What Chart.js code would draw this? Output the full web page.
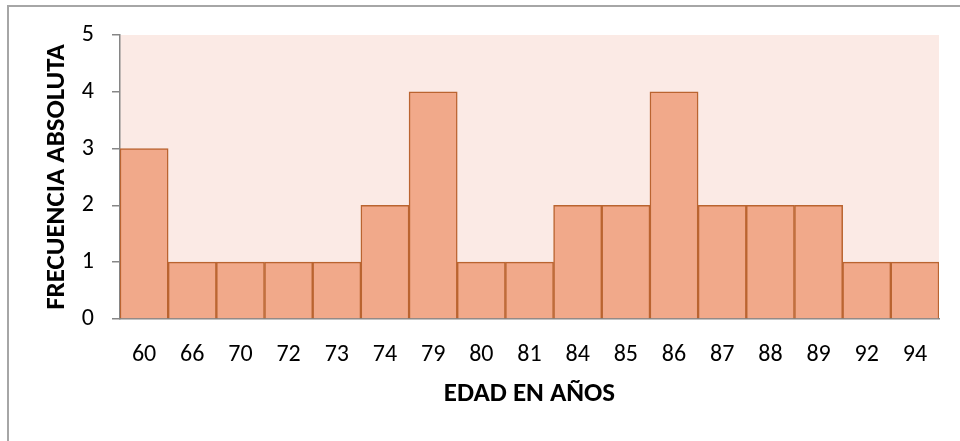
<!DOCTYPE html>
<html>
<head>
<meta charset="utf-8">
<script src="https://cdn.jsdelivr.net/npm/chart.js@4/dist/chart.umd.min.js"></script>
<style>
  html, body { margin: 0; padding: 0; background: #ffffff; }
  #wrap { width: 960px; height: 441px; position: relative; }
</style>
</head>
<body>
<div id="wrap"><canvas id="c" width="960" height="441"></canvas></div>
<script>
const categories = ['60','66','70','72','73','74','79','80','81','84','85','86','87','88','89','92','94'];
const frecuencia = [3,1,1,1,1,2,4,1,1,2,2,4,2,2,2,1,1];
const yTicks = [0,1,2,3,4,5];
const xTitle = 'EDAD EN AÑOS';
const yTitle = 'FRECUENCIA ABSOLUTA';

const FONT = "Carlito, 'Open Sans', sans-serif";

const bgPlugin = {
  id: 'bg',
  beforeDraw(chart) {
    const ctx = chart.ctx;
    const a = chart.chartArea;
    ctx.save();
    ctx.fillStyle = '#ffffff';
    ctx.fillRect(0, 0, chart.width, chart.height);
    ctx.fillStyle = '#FBEAE5';
    ctx.fillRect(a.left, a.top, a.right - a.left, a.bottom - a.top);
    ctx.strokeStyle = '#A6A6A6';
    ctx.lineWidth = 2;
    ctx.strokeRect(8, 6, 1200, 1200);
    ctx.restore();
  }
};

new Chart(document.getElementById('c'), {
  type: 'bar',
  data: {
    labels: categories,
    datasets: [{
      data: frecuencia,
      backgroundColor: '#F1A98A',
      borderColor: '#BA6430',
      borderWidth: 1.5,
      barPercentage: 1.0,
      categoryPercentage: 1.0
    }]
  },
  options: {
    responsive: false,
    animation: false,
    devicePixelRatio: 1,
    layout: { padding: { top: 35, right: 21, left: 0, bottom: 0 } },
    plugins: {
      legend: { display: false },
      tooltip: { enabled: false }
    },
    scales: {
      x: {
        afterFit(s) { s.height = 122; },
        grid: { display: true, drawOnChartArea: false, drawTicks: false },
        border: { display: true, color: '#868686', width: 1.5 },
        ticks: {
          color: '#000000',
          padding: 22,
          maxRotation: 0,
          autoSkip: false,
          font: { family: FONT, size: 24 }
        },
        title: {
          display: true,
          text: xTitle,
          color: '#000000',
          font: { family: FONT, size: 27, weight: 'bold' },
          padding: { top: 0, bottom: 31 }
        }
      },
      y: {
        min: 0,
        max: 5,
        afterFit(s) { s.width = 120; },
        afterBuildTicks(s) { s.ticks = yTicks.map(v => ({ value: v })); },
        grid: { display: true, drawOnChartArea: false, drawTicks: true, tickLength: 8, color: '#868686', lineWidth: 1.5 },
        border: { display: true, color: '#868686', width: 1.5 },
        ticks: {
          color: '#000000',
          padding: 18,
          font: { family: FONT, size: 24 }
        },
        title: {
          display: true,
          text: yTitle,
          color: '#000000',
          font: { family: FONT, size: 27, weight: 'bold' },
          padding: { top: 41, bottom: 0 }
        }
      }
    }
  },
  plugins: [bgPlugin]
});
</script>
</body>
</html>
